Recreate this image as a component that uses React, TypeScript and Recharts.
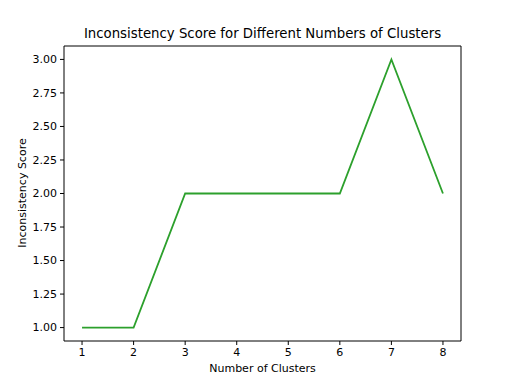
import React from "react";
import { LineChart, Line, XAxis, YAxis } from "recharts";

const clusters = [1, 2, 3, 4, 5, 6, 7, 8];
const scores = [1, 1, 2, 2, 2, 2, 3, 2];
const xTicks = [1, 2, 3, 4, 5, 6, 7, 8];
const yTicks = [1.0, 1.25, 1.5, 1.75, 2.0, 2.25, 2.5, 2.75, 3.0];

const data = clusters.map((c, i) => ({ c, s: scores[i] }));
const font = "'DejaVu Sans', sans-serif";

export default function App() {
  return (
    <div style={{ position: "absolute", left: 0, top: 0, width: 512, height: 384, background: "#fff", fontFamily: font }}>
      <LineChart width={512} height={384} data={data} margin={{ top: 36, right: 41, bottom: 13, left: 24 }}>
        <XAxis
          xAxisId="b"
          dataKey="c"
          type="number"
          domain={[0.65, 8.35]}
          ticks={xTicks}
          height={30}
          allowDataOverflow
          tickSize={4}
          tickMargin={3}
          stroke="#000"
          tick={{ fill: "#000", fontSize: 11, fontFamily: font }}
          axisLine={{ stroke: "#000", strokeWidth: 1 }}
          tickLine={{ stroke: "#000", strokeWidth: 1 }}
        />
        <XAxis xAxisId="t" orientation="top" dataKey="c" type="number" domain={[0.65, 8.35]} height={10} tick={false} tickLine={false} stroke="#000" axisLine={{ stroke: "#000", strokeWidth: 1 }} />
        <YAxis
          yAxisId="l"
          type="number"
          domain={[0.9, 3.1]}
          ticks={yTicks}
          width={40}
          allowDataOverflow
          tickSize={4}
          tickMargin={3}
          stroke="#000"
          tickFormatter={(v: number) => v.toFixed(2)}
          tick={{ fill: "#000", fontSize: 11, fontFamily: font }}
          axisLine={{ stroke: "#000", strokeWidth: 1 }}
          tickLine={{ stroke: "#000", strokeWidth: 1 }}
        />
        <YAxis yAxisId="r" orientation="right" type="number" domain={[0.9, 3.1]} width={10} tick={false} tickLine={false} stroke="#000" axisLine={{ stroke: "#000", strokeWidth: 1 }} />
        <Line xAxisId="b" yAxisId="l" type="linear" dataKey="s" stroke="#2ca02c" strokeWidth={1.8} dot={false} isAnimationActive={false} />
      </LineChart>
      <div style={{ position: "absolute", left: 0, width: 525, top: 26, textAlign: "center", fontSize: 13.3, color: "#000" }}>
        Inconsistency Score for Different Numbers of Clusters
      </div>
      <div style={{ position: "absolute", left: 0, width: 525, top: 362, textAlign: "center", fontSize: 11, color: "#000" }}>
        Number of Clusters
      </div>
      <div style={{ position: "absolute", left: 22, top: 193, transform: "translate(-50%, -50%) rotate(-90deg)", whiteSpace: "nowrap", fontSize: 11, color: "#000" }}>
        Inconsistency Score
      </div>
    </div>
  );
}
